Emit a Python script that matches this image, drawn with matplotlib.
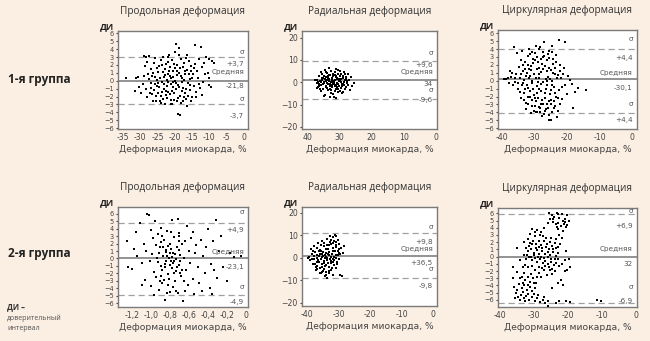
import matplotlib
matplotlib.use("Agg")
import matplotlib.pyplot as plt
import matplotlib.transforms as mtransforms

# ---------------------------------------------------------------------------
# data
# ---------------------------------------------------------------------------
titles = ["Продольная деформация", "Радиальная деформация", "Циркулярная деформация"]
row_labels = ["1-я группа", "2-я группа"]
xlabel = "Деформация миокарда, %"

# (x, y) points, panel by panel
p1 = [(-34.0,0.4),(-31.2,0.3),(-30.6,0.5),(-31.5,-1.3),(-30.2,-0.8),(-29.8,-1.5),(-29.0,3.1),(-28.2,3.0),
      (-27.4,3.1),(-28.6,1.9),(-28.0,2.4),(-27.8,0.9),(-29.1,-0.4),(-28.4,-1.1),(-27.9,-2.0),(-27.2,-1.6),
      (-26.8,-0.3),(-26.5,0.6),(-26.9,1.5),(-26.1,2.3),(-25.8,2.9),(-25.5,-2.5),(-25.9,-1.2),(-25.2,0.1),
      (-24.9,1.1),(-24.6,1.9),(-24.4,-0.8),(-24.1,-1.9),(-23.9,-2.8),(-24.0,2.6),(-23.5,3.0),(-23.2,0.5),
      (-23.0,-0.4),(-22.8,1.5),(-22.6,-1.3),(-22.4,2.1),(-22.2,-2.2),(-22.0,0.9),(-21.8,-0.1),(-21.7,3.3),
      (-21.5,1.8),(-21.3,-1.7),(-21.1,-2.9),(-21.0,0.3),(-20.8,2.6),(-20.6,-0.8),(-20.4,1.2),(-20.2,-2.4),
      (-20.0,3.6),(-19.9,0.0),(-19.7,-1.1),(-19.5,4.6),(-19.3,2.0),(-19.1,-0.5),(-18.9,4.2),(-18.8,1.0),
      (-18.6,-1.9),(-18.5,-4.3),(-19.1,-4.2),(-18.3,2.8),(-18.1,-2.8),(-17.9,0.4),(-17.7,1.7),(-17.5,-0.9),
      (-17.3,2.3),(-17.1,-1.5),(-16.9,0.8),(-16.7,-2.3),(-16.5,-3.2),(-16.3,1.4),(-16.1,-0.3),(-15.9,2.5),
      (-15.7,-1.2),(-15.5,0.2),(-15.2,1.9),(-15.0,-2.0),(-14.8,0.9),(-14.5,-0.6),(-14.0,4.5),(-14.2,2.1),
      (-13.8,-1.4),(-13.5,1.3),(-13.2,0.4),(-12.9,2.8),(-12.5,4.3),(-12.6,-0.9),(-12.2,1.7),(-11.8,-0.2),
      (-11.5,2.2),(-11.0,3.0),(-10.5,1.0),(-10.0,2.7),(-10.1,0.3),(-10.0,-0.5),(-9.5,-0.8),(-9.2,2.5),
      (-8.6,2.2),(-22.9,-2.9),(-20.7,-3.0),(-23.6,-1.4),(-19.4,0.7),(-18.0,-0.2),(-21.4,0.6),(-20.9,-1.3),
      (-22.3,0.1),(-19.8,1.6),(-17.6,-2.6),(-25.3,-1.9),(-26.3,-2.6),(-24.7,-0.3),(-23.3,1.1),(-16.8,2.9),
      (-15.4,-2.5),(-13.9,-2.1),(-12.0,-1.8),(-11.3,0.8),
      (-27.0,-0.9),(-26.4,1.0),(-25.6,0.5),(-25.0,-0.6),(-24.3,0.4),(-23.8,-0.2),(-23.1,-1.0),(-22.7,0.7),
      (-22.1,-0.7),(-21.6,1.2),(-21.2,-0.4),(-20.5,0.5),(-20.1,-1.6),(-19.6,-0.3),(-19.2,1.3),(-18.7,-0.8),
      (-18.2,0.6),(-17.8,-1.3),(-17.2,0.1),(-16.6,-1.0),(-16.0,0.9),(-15.6,-0.5),(-14.9,0.3),(-24.8,-1.5),
      (-23.7,2.0),(-22.5,-1.8),(-21.9,2.4),(-20.3,2.1),(-19.0,-2.2),(-18.4,1.6),(-17.4,-2.0),(-16.2,-1.9),
      (-15.3,1.2),(-26.6,-1.7),(-27.5,0.2),(-28.8,0.6),(-25.1,1.6),(-23.4,-2.3),(-21.0,-2.4),(-19.3,-2.6),
      (-13.0,-0.4),(-14.4,1.6),(-22.0,3.0),(-18.7,3.2),(-16.4,3.3),(-24.2,-2.6),(-20.4,-0.2),(-17.0,1.2),
      (-25.7,-0.4),(-21.9,-1.4)]

p2 = [(37.0,-0.5),(36.8,1.2),(36.5,-2.3),(36.3,2.8),(36.0,0.4),(35.8,-4.0),(35.6,-1.2),(35.4,3.9),
      (35.2,1.8),(35.0,-2.9),(34.8,0.0),(34.6,5.5),(34.4,-5.8),(34.2,2.4),(34.0,-1.7),(33.8,4.2),
      (33.7,0.9),(33.5,-3.5),(33.3,6.2),(33.1,1.5),(33.0,-0.8),(32.8,3.1),(32.6,-4.8),(32.5,5.0),
      (32.3,-2.1),(32.1,0.3),(32.0,2.6),(31.8,-6.5),(31.7,-1.0),(31.5,4.6),(31.3,1.1),(31.2,-3.0),
      (31.0,6.0),(30.8,-0.3),(30.7,2.0),(30.5,-4.4),(30.3,3.6),(30.1,-1.8),(30.0,0.7),(29.8,5.2),
      (29.6,-2.6),(29.4,1.6),(29.2,-5.0),(29.0,3.0),(28.8,-0.6),(28.6,4.8),(28.3,1.0),(28.0,-2.0),
      (27.8,2.5),(27.5,-0.2),(27.2,3.8),(26.9,0.9),(26.5,2.2),(26.8,-3.3),(26.0,-1.5),(35.9,-3.0),
      (35.3,0.8),(34.9,-6.0),(34.3,4.5),(33.9,-2.5),(33.2,3.4),(32.9,-6.8),(32.4,1.9),(31.9,-5.3),
      (31.4,3.2),(30.9,-1.4),(30.4,5.7),(29.9,-3.8),(29.5,0.0),(28.9,-4.2),(28.4,3.5),(27.9,1.3),
      (27.4,-1.1),(37.5,0.8),(36.2,-0.8),(34.1,0.5),(33.6,-1.0),(32.7,0.0),(32.2,-1.2),(31.6,0.6),
      (31.1,2.4),(30.6,-2.3),(30.2,1.4),(29.7,2.7),(29.3,-1.0),(28.7,0.3),(28.2,-3.0),(33.4,2.1),
      (34.7,-0.4),(35.5,2.0),(36.6,0.3),(31.2,-7.2),(25.5,-0.5),
      (36.3,-1.5),(35.7,0.2),(35.1,-0.9),(34.5,1.3),(33.9,-0.4),(33.3,0.6),(32.8,-1.6),(32.3,1.0),
      (31.8,-0.2),(31.3,-1.9),(30.8,1.5),(30.3,-0.9),(29.8,0.9),(29.3,-1.8),(28.9,1.7),(34.9,2.8),
      (34.2,-2.3),(33.6,3.0),(33.0,-3.1),(32.5,-3.6),(31.9,3.9),(31.4,-3.8),(30.9,3.0),(30.3,-3.2),
      (29.6,3.8),(35.6,4.8),(36.8,-2.8),(28.5,-1.4),(27.6,0.6),(32.0,-0.6)]

p3 = [(-39.2,0.2),(-38.6,0.2),(-38.0,0.3),(-37.5,1.2),(-36.8,1.0),(-36.2,4.2),(-37.2,0.5),(-36.5,-0.5),
      (-35.8,-0.2),(-35.5,0.8),(-35.2,3.5),(-35.0,-1.0),(-34.8,1.7),(-34.5,0.3),(-34.2,-2.2),(-34.0,2.6),
      (-33.8,-0.6),(-33.6,3.8),(-33.4,1.2),(-33.2,-1.5),(-33.0,0.1),(-32.8,2.3),(-32.6,-2.8),(-32.4,-3.6),
      (-32.2,1.0),(-32.0,3.1),(-31.8,-0.9),(-31.6,4.0),(-31.4,-2.1),(-31.2,0.6),(-31.0,1.9),(-30.8,-3.2),
      (-30.6,-0.3),(-30.4,2.8),(-30.2,-1.8),(-30.0,0.9),(-29.8,3.5),(-29.6,-2.6),(-29.4,-4.0),(-29.2,1.5),
      (-29.0,-0.7),(-28.8,2.4),(-28.6,-3.3),(-28.4,0.3),(-28.2,4.3),(-28.0,-1.3),(-27.8,1.1),(-27.6,-2.4),
      (-27.4,3.0),(-27.2,-0.2),(-27.0,4.9),(-26.8,-3.8),(-26.6,1.8),(-26.4,-1.0),(-26.2,2.6),(-26.0,-2.9),
      (-25.8,0.5),(-25.6,-4.3),(-25.4,3.7),(-25.2,-1.7),(-25.0,1.3),(-24.8,-2.4),(-24.6,4.4),(-24.4,0.0),
      (-24.2,2.1),(-24.0,-3.5),(-23.8,-0.8),(-23.6,1.6),(-23.4,-2.0),(-23.2,3.2),(-23.0,-4.6),(-22.8,0.7),
      (-22.5,5.1),(-22.4,-1.2),(-22.2,2.0),(-22.0,-3.0),(-21.8,0.4),(-21.4,-2.3),(-21.0,1.6),(-20.5,4.9),
      (-20.5,-0.6),(-20.0,-1.7),(-19.5,0.6),(-19.0,0.1),(-18.5,-0.4),(-18.2,-3.5),(-17.5,-1.4),(-16.5,-0.9),
      (-14.0,-1.2),(-25.5,-5.0),(-24.8,-5.0),(-27.5,-4.4),(-31.5,1.5),(-30.5,2.2),(-29.5,0.4),(-28.5,1.6),
      (-27.5,2.1),(-26.5,0.2),(-25.5,2.9),(-24.5,-0.5),(-23.5,0.9),(-32.5,0.6),(-33.5,2.0),(-34.5,-1.4),
      (-30.8,-2.5),(-29.8,-3.2),(-28.8,-2.2),(-27.8,-3.0),(-26.8,-2.2),(-25.8,-3.4),(-24.8,-3.0),(-23.8,-2.6),
      (-31.8,-3.0),(-30.2,-3.8),(-28.2,-4.0),(-29.2,3.0),(-27.2,3.6),(-31.2,3.4),(-26.2,1.2),(-25.2,0.2),
      (-32.8,-1.0),(-30.8,0.0),(-28.8,-0.2),(-24.2,1.0),(-21.2,0.8),
      (-34.0,0.9),(-33.3,-0.3),(-32.7,1.5),(-32.1,-0.6),(-31.5,0.3),(-30.9,1.4),(-30.3,-1.1),(-29.7,2.6),
      (-29.1,-1.6),(-28.5,0.9),(-27.9,-0.4),(-27.3,1.5),(-26.7,-1.5),(-26.1,0.0),(-25.5,1.6),(-24.9,-1.2),
      (-24.3,2.8),(-23.7,-1.6),(-23.1,0.3),(-22.6,-2.2),(-30.6,3.6),(-29.5,4.4),(-27.8,2.7),(-26.9,3.1),
      (-25.9,3.4),(-24.4,3.6),(-23.3,2.3),(-33.1,-2.4),(-32.0,-2.0),(-30.9,-4.1),(-29.9,-2.2),(-29.0,-3.9),
      (-28.1,-3.4),(-27.2,-2.9),(-26.3,-3.6),(-25.4,-2.6),(-24.5,-4.0),(-23.6,-3.2),(-22.7,-3.8),(-31.3,-1.3),
      (-28.5,-1.0),(-26.0,-0.6),(-34.9,-0.3),(-36.0,0.3),(-37.8,-0.3),(-21.5,-0.8),(-22.1,1.2),(-27.0,-4.2),
      (-28.6,4.0),(-31.9,2.0)]

p4 = [(-1.25,2.4),(-1.24,-1.1),(-1.20,-1.4),(-1.18,1.3),(-1.15,0.3),(-1.12,4.8),(-1.10,-0.6),(-1.08,2.0),
      (-1.06,-2.9),(-1.05,1.0),(-1.04,6.0),(-1.02,5.8),(-1.01,-0.3),(-1.00,-3.7),(-0.99,0.6),(-0.98,2.8),
      (-0.97,-1.8),(-0.96,5.0),(-0.95,-2.5),(-0.94,0.0),(-0.93,3.3),(-0.92,-4.2),(-0.91,1.6),(-0.90,-1.0),
      (-0.89,4.1),(-0.88,-3.3),(-0.87,0.4),(-0.86,2.5),(-0.85,-5.5),(-0.85,-0.7),(-0.84,1.2),(-0.83,3.7),
      (-0.82,-2.1),(-0.81,0.1),(-0.80,-4.5),(-0.80,2.0),(-0.79,-0.4),(-0.78,5.1),(-0.78,-1.3),(-0.77,0.8),
      (-0.76,2.9),(-0.75,-3.0),(-0.74,-0.1),(-0.73,1.5),(-0.72,5.3),(-0.72,-4.6),(-0.71,-0.9),(-0.70,3.4),
      (-0.69,0.5),(-0.68,-2.4),(-0.67,1.9),(-0.66,-5.7),(-0.65,0.0),(-0.64,2.4),(-0.63,-1.6),(-0.62,4.3),
      (-0.61,-3.6),(-0.60,1.0),(-0.59,-0.6),(-0.58,2.7),(-0.56,-2.8),(-0.55,-4.8),(-0.54,0.7),(-0.52,1.8),
      (-0.50,-1.2),(-0.49,-3.3),(-0.47,2.5),(-0.46,-4.4),(-0.45,0.3),(-0.43,-1.9),(-0.42,1.6),(-0.40,4.0),
      (-0.38,-3.9),(-0.37,-0.8),(-0.35,2.3),(-0.33,-1.6),(-0.31,5.1),(-0.30,-2.6),(-0.28,1.0),(-0.26,3.0),
      (-0.24,-1.2),(-0.20,-3.0),(-0.17,0.7),(-0.12,0.2),(-0.05,0.3),(-0.90,2.2),(-0.88,-1.6),(-0.86,-2.9),
      (-0.84,0.9),(-0.82,1.7),(-0.80,-0.9),(-0.78,0.2),(-0.76,-2.0),(-0.74,-1.7),(-0.82,-3.6),(-0.93,-0.5),
      (-0.97,-4.9),(-0.77,-3.8),(-0.69,-2.0),(-0.71,3.0),(-1.10,-3.5),(-1.16,3.5),(-0.64,-4.3),(-0.56,3.5),
      (-0.36,-4.7),
      (-0.92,0.8),(-0.90,-2.3),(-0.87,1.6),(-0.85,-1.2),(-0.83,0.3),(-0.81,-2.8),(-0.79,1.3),(-0.77,-0.6),
      (-0.75,0.6),(-0.73,-1.1),(-0.71,1.1),(-0.69,-0.3),(-0.67,-1.5),(-0.84,-0.3),(-0.80,0.7),(-0.76,-0.3),
      (-0.88,3.0),(-0.79,3.5),(-0.83,-4.6),(-0.74,-4.4),(-0.95,1.8),(-1.00,3.8),(-0.65,-3.0),(-0.91,-3.0),
      (-0.70,2.3)]

p5 = [(-39.5,0.5),(-39.0,-1.2),(-38.8,3.8),(-38.5,1.5),(-38.2,-3.0),(-38.0,5.0),(-37.8,-0.5),(-37.5,2.5),
      (-37.2,-5.5),(-37.0,4.2),(-36.8,0.0),(-36.5,6.5),(-36.2,-2.0),(-36.0,1.8),(-35.8,-7.0),(-35.6,3.0),
      (-35.4,-4.2),(-35.2,7.5),(-35.0,0.8),(-34.8,-1.5),(-34.6,5.2),(-34.4,-8.0),(-34.2,2.2),(-34.0,-3.4),
      (-33.8,8.5),(-33.6,-0.3),(-33.4,4.0),(-33.2,-6.0),(-33.0,1.2),(-32.8,9.5),(-32.6,-2.5),(-32.4,6.0),
      (-32.2,-4.8),(-32.0,2.8),(-31.8,-0.8),(-31.6,7.2),(-31.4,-3.2),(-31.2,10.0),(-31.0,1.0),(-30.8,4.6),
      (-30.6,-1.8),(-30.4,8.0),(-30.2,3.0),(-30.0,-0.5),(-29.8,6.2),(-29.5,1.8),(-29.3,4.5),(-29.0,-8.0),
      (-28.8,2.2),(-28.5,5.0),(-36.0,-4.8),(-35.0,-5.8),(-34.0,-6.5),(-33.0,-4.0),(-32.0,-7.5),(-37.5,-2.8),
      (-36.5,-1.0),(-35.5,0.5),(-34.5,-0.2),(-33.5,1.8),(-32.5,0.4),(-31.5,-1.0),(-30.5,-2.8),(-38.5,-0.8),
      (-37.0,1.0),(-36.0,3.5),(-35.0,2.5),(-34.0,3.8),(-33.0,5.5),(-32.0,4.5),(-31.0,5.8),(-30.0,2.0),
      (-35.5,-2.8),(-34.5,-3.9),(-33.5,-2.5),(-32.5,-1.5),(-31.5,0.5),(-36.8,-3.6),(-37.8,0.8),(-39.8,-0.2),
      (-33.8,-9.0),(-32.6,8.0),(-31.8,9.0),(-30.8,7.0),(-34.8,6.5),(-36.0,-7.0),(-34.2,-7.5),(-29.5,-7.8),
      (-37.0,-1.8),(-36.3,0.8),(-35.8,-0.6),(-35.2,1.6),(-34.7,-2.3),(-34.2,0.4),(-33.7,-1.2),(-33.2,2.6),
      (-32.8,-0.4),(-32.3,1.5),(-31.8,-2.0),(-31.3,3.0),(-30.8,-0.2),(-30.3,1.2),(-33.9,5.5),(-32.9,7.0),
      (-31.9,6.5),(-30.9,9.5),(-36.9,-5.0),(-35.3,-6.5),(-33.1,-7.0),(-34.6,-5.0),(-38.3,2.8),(-37.4,-4.0),
      (-32.5,-5.5),(-31.0,-4.5),(-29.9,4.0),(-34.4,1.2),(-36.4,2.8),(-35.7,5.8)]

p6 = [(-25.5,6.0),(-24.8,5.8),(-24.0,5.5),(-23.2,6.0),(-22.5,5.4),(-21.8,5.9),(-21.0,5.2),(-20.4,5.8),
      (-19.8,4.9),(-25.2,5.2),(-24.4,4.8),(-23.6,4.5),(-22.8,4.7),(-22.0,4.2),(-21.2,4.5),(-20.6,4.1),
      (-26.0,4.6),(-27.0,4.0),(-23.0,3.8),(-21.5,3.6),(-20.2,4.4),(-30.5,3.9),(-29.8,3.4),(-29.0,3.7),
      (-28.2,3.0),(-27.4,2.9),(-31.0,3.2),(-31.8,2.4),(-31.0,1.9),(-30.2,2.2),(-29.4,1.7),(-28.6,2.1),
      (-27.8,1.6),(-27.0,2.2),(-26.2,1.8),(-25.4,2.0),(-24.6,1.5),(-23.8,1.9),(-23.0,1.4),(-22.2,1.8),
      (-32.4,1.2),(-31.6,0.8),(-30.8,1.0),(-30.0,0.5),(-29.2,0.9),(-28.4,0.4),(-27.6,0.8),(-26.8,0.3),
      (-26.0,0.7),(-25.2,0.2),(-24.4,0.6),(-23.6,0.1),(-22.8,0.5),(-33.0,0.2),(-32.2,-0.3),(-31.4,-0.1),
      (-30.6,-0.5),(-29.8,-0.2),(-29.0,-0.7),(-28.2,-0.4),(-27.4,-0.9),(-26.6,-0.6),(-25.8,-1.0),(-25.0,-0.7),
      (-24.2,-1.2),(-23.4,-0.9),(-22.6,-1.3),(-21.8,-1.0),(-20.5,0.8),(-20.8,-0.5),(-19.8,-0.3),(-19.5,-1.5),
      (-20.2,-1.8),(-21.0,-2.0),(-35.0,1.2),(-34.0,-0.5),(-36.0,-1.5),(-33.5,-2.8),(-32.6,-3.2),(-31.8,-2.8),
      (-31.0,-3.5),(-30.2,-3.0),(-29.4,-3.6),(-28.6,-2.3),(-27.8,-2.8),(-27.0,-1.8),(-26.2,-2.5),(-25.4,-1.9),
      (-24.6,-2.4),(-23.8,-2.0),(-34.4,-3.8),(-33.6,-4.3),(-32.8,-4.0),(-32.0,-4.6),(-31.2,-4.2),(-30.4,-4.8),
      (-29.6,-4.4),(-35.2,-5.0),(-34.6,-5.6),(-33.8,-5.3),(-33.0,-5.8),(-32.2,-5.5),(-31.4,-6.0),(-30.6,-5.6),
      (-29.8,-6.1),(-29.0,-5.8),(-28.2,-6.3),(-27.4,-6.0),(-26.6,-6.5),(-25.8,-6.2),(-25.8,-6.9),(-23.5,-6.4),
      (-22.5,-6.2),(-20.5,-6.1),(-19.5,-6.3),(-11.5,-6.0),(-10.2,-6.2),(-35.8,-4.2),(-36.0,-3.0),(-34.8,-2.2),
      (-33.2,-1.5),(-22.0,-3.2),(-21.5,-4.0),(-23.0,-3.6),(-24.8,-4.4),(-21.8,2.6),(-22.6,3.0),
      (-32.8,2.0),(-31.5,1.5),(-30.5,1.8),(-29.5,1.2),(-28.5,1.4),(-27.5,1.2),(-26.5,1.4),(-25.5,1.1),
      (-24.5,1.0),(-23.5,1.2),(-31.9,0.2),(-30.9,0.0),(-29.9,0.2),(-28.9,-0.1),(-27.9,0.0),(-26.9,-0.2),
      (-25.9,0.0),(-24.9,-0.3),(-23.9,-0.4),(-22.9,-0.3),(-32.6,-1.2),(-31.6,-1.5),(-30.6,-1.3),(-29.6,-1.8),
      (-28.6,-1.4),(-27.6,-1.6),(-26.6,-1.3),(-25.6,-1.5),(-24.6,-1.7),(-32.9,-2.3),(-30.9,-2.4),(-29.0,-2.9),
      (-34.1,-3.0),(-33.2,-3.6),(-31.6,-3.9),(-30.0,-3.7),(-34.8,-4.6),(-33.2,-4.9),(-31.7,-5.2),(-30.1,-5.2),
      (-35.5,-5.8),(-34.0,-6.0),(-32.6,-6.2),(-28.7,-5.4),(-27.0,-5.6),(-24.4,5.2),(-22.8,5.9),(-21.4,5.0),
      (-23.3,4.1),(-20.9,4.8),(-29.6,2.8),(-28.0,3.4),(-26.4,2.6),(-25.0,2.6),(-23.4,2.4)]

points = [p1, p2, p3, p4, p5, p6]

# upper sigma line, mean line, lower sigma line
levels = [(3.0, 0.0, -3.0), (9.6, 1.0, -7.5), (4.0, 0.15, -4.1),
          (4.8, 0.0, -4.9), (10.8, 0.8, -8.9), (5.9, 0.0, -6.5)]

# right-side annotations: (text, y)
notes = [
    [("σ", 3.7), ("+3,7", 2.1), ("Средняя", 1.05), ("-21,8", -0.7), ("σ", -2.3), ("-3,7", -4.4)],
    [("σ", 13.3), ("+9,6", 7.9), ("Средняя", 4.8), ("34", -1.0), ("σ", -3.7), ("-9,6", -8.1)],
    [("σ", 5.3), ("+4,4", 2.85), ("Средняя", 1.0), ("-30,1", -0.9), ("σ", -2.9), ("+4,4", -5.0)],
    [("σ", 6.2), ("+4,9", 3.85), ("Средняя", 0.9), ("-23,1", -1.2), ("σ", -3.8), ("-4,9", -5.8)],
    [("σ", 13.8), ("+9,8", 7.1), ("Средняя", 4.0), ("+36,5", -2.2), ("σ", -5.2), ("-9,8", -12.6)],
    [("σ", 6.3), ("+6,9", 4.2), ("Средняя", 1.06), ("32", -1.0), ("σ", -4.2), ("-6,9", -6.1)],
]

xlims = [(-36.4, 1.2), (41.6, -0.3), (-41.1, 1.5), (-1.35, 0.025), (-41.7, 1.2), (-40.5, 0.2)]
ylims = [(-6.1, 6.3), (-21, 23), (-6.1, 6.4), (-6.5, 6.9), (-21.5, 22.5), (-7.0, 6.75)]
xticks = [[-35, -30, -25, -20, -15, -10, -5, 0], [40, 30, 20, 10, 0], [-40, -30, -20, -10, 0],
          [-1.2, -1.0, -0.8, -0.6, -0.4, -0.2, 0], [-40, -30, -20, -10, 0], [-40, -30, -20, -10, 0]]
xticklabels = [["-35", "-30", "-25", "-20", "-15", "-10", "-5", "0"], ["40", "30", "20", "10", "0"],
               ["-40", "-30", "-20", "-10", "0"],
               ["-1,2", "-1,0", "-0,8", "-0,6", "-0,4", "-0,2", "0"],
               ["-40", "-30", "-20", "-10", "0"], ["-40", "-30", "-20", "-10", "0"]]
yticks_small = list(range(-6, 7))
yticks_big = [-20, -10, 0, 10, 20]
yticks = [yticks_small, yticks_big, yticks_small, yticks_small, yticks_big, yticks_small]

# ---------------------------------------------------------------------------
bg = "#fbeee2"
narrow = ["Liberation Sans Narrow", "DejaVu Sans"]
plt.rcParams["font.family"] = ["Open Sans", "DejaVu Sans"]

fig = plt.figure(figsize=(6.5, 3.41), dpi=100, facecolor=bg)

W, H = 650.0, 341.0
boxes = [(118, 31, 130, 98), (302, 31, 135, 98), (498, 30, 139, 99),
         (118, 207, 130, 100), (302, 207, 135, 99), (498, 208, 139, 99)]

for i, (bx, by, bw, bh) in enumerate(boxes):
    ax = fig.add_axes([bx / W, 1 - (by + bh) / H, bw / W, bh / H])
    ax.set_facecolor("white")
    for s in ax.spines.values():
        s.set_color("#7a7a7a")
        s.set_linewidth(1.0)

    xs = [p[0] for p in points[i]]
    ys = [p[1] for p in points[i]]
    ax.plot(xs, ys, "s", color="black", ms=2.0, mew=0, zorder=3)

    up, mid, lo = levels[i]
    ax.axhline(up, color="#a0a0a0", lw=0.9, ls=(0, (5, 3)), zorder=2)
    ax.axhline(mid, color="#808080", lw=1.2, zorder=2)
    ax.axhline(lo, color="#a0a0a0", lw=0.9, ls=(0, (5, 3)), zorder=2)

    tr = mtransforms.blended_transform_factory(ax.transAxes, ax.transData)
    for txt, ty in notes[i]:
        ax.text(0.97, ty, txt, transform=tr, ha="right", va="center",
                fontsize=5.2, color="#555555", zorder=4, family=narrow)

    ax.set_xlim(*xlims[i])
    ax.set_ylim(*ylims[i])
    ax.set_xticks(xticks[i])
    ax.set_xticklabels(xticklabels[i])
    ax.set_yticks(yticks[i])
    ysize = 4.7 if len(yticks[i]) > 6 else 5.6
    ax.tick_params(axis="x", length=0, pad=3, labelsize=5.6, colors="#444444")
    ax.tick_params(axis="y", length=1.5, pad=1.5, labelsize=ysize, colors="#444444")
    for lab in ax.get_xticklabels() + ax.get_yticklabels():
        lab.set_family(narrow)

    ax.set_xlabel(xlabel, fontsize=6.6, color="#444444", labelpad=2, family=narrow)
    ax.set_title(titles[i % 3], fontsize=7.2, color="#333333", pad=12)
    ax.text(-0.03, 1.0, "ДИ", transform=ax.transAxes, ha="right", va="bottom",
            fontsize=6.5, weight="bold", color="#222222")

fig.text(8 / W, 1 - 80 / H, row_labels[0], fontsize=8.5, weight="bold", color="#222222", va="center")
fig.text(8 / W, 1 - 254 / H, row_labels[1], fontsize=8.5, weight="bold", color="#222222", va="center")

fig.text(7 / W, 1 - 307 / H, "ДИ –", fontsize=5.5, weight="bold", color="#333333", va="center")
fig.text(7 / W, 1 - 318 / H, "доверительный", fontsize=5, color="#555555", va="center")
fig.text(7 / W, 1 - 328 / H, "интервал", fontsize=5, color="#555555", va="center")

fig.savefig("out.png", dpi=100, facecolor=bg)
